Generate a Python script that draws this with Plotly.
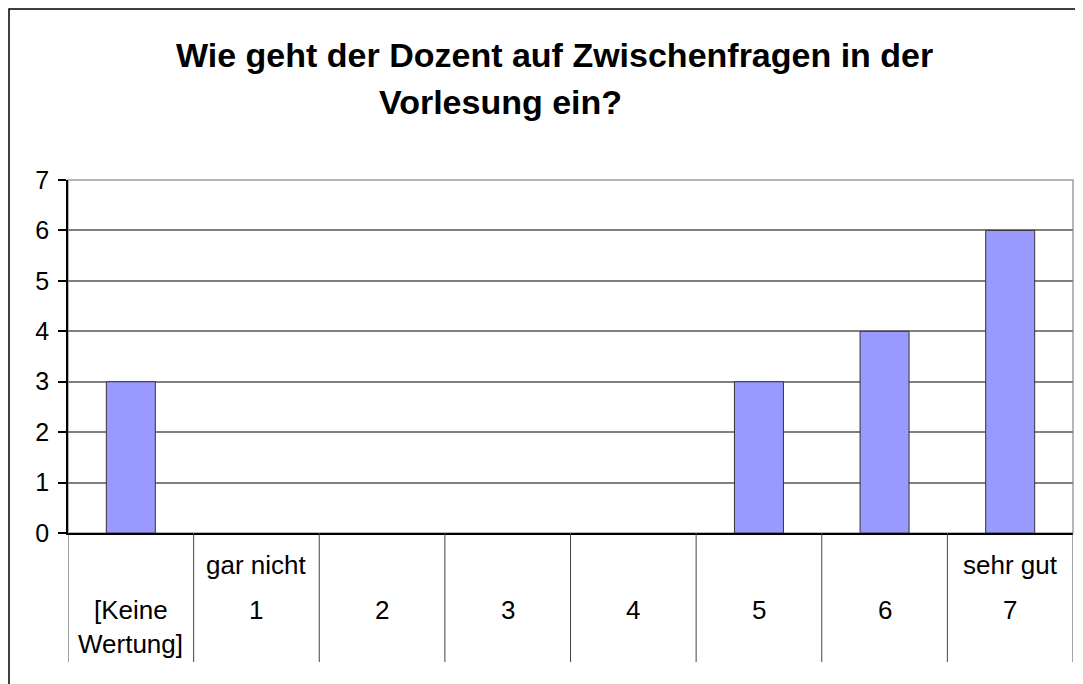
import plotly.graph_objects as go

categories = ["[Keine Wertung]", "1", "2", "3", "4", "5", "6", "7"]
counts = [3, 0, 0, 0, 0, 3, 4, 6]
label_top = ["", "gar nicht", "", "", "", "", "", "sehr gut"]
label_mid = ["[Keine", "1", "2", "3", "4", "5", "6", "7"]
label_bot = ["Wertung]", "", "", "", "", "", "", ""]
y_ticks = [0, 1, 2, 3, 4, 5, 6, 7]
title_line1 = "Wie geht der Dozent auf Zwischenfragen in der"
title_line2 = "Vorlesung ein?"

OFF = 8  # page body margin
W, H = 1083 - OFF, 684 - OFF
L, T = 68 - OFF, 180 - OFF
R = W - (1073 - OFF)
B = H - (533 - OFF)
PW, PH = W - L - R, H - T - B
FONT = "Liberation Sans, Arial, sans-serif"

def px(x):  # screen pixel -> paper
    return (x - OFF - L) / PW

def py(y):
    return (H - B - (y - OFF)) / PH

fig = go.Figure()
fig.add_trace(go.Bar(
    x=categories, y=counts,
    marker=dict(color="#9999FF",
                line=dict(color="#333333", width=[1 if v > 0 else 0 for v in counts])),
    hoverinfo="x+y",
))

shapes = []
shapes.append(dict(type="rect", xref="paper", yref="paper",
                   x0=px(9), x1=px(1100), y0=py(9), y1=py(700),
                   line=dict(color="#000000", width=1.5), layer="below"))
shapes.append(dict(type="rect", xref="paper", yref="paper",
                   x0=0, x1=1, y0=0, y1=1,
                   line=dict(color="#A0A0A0", width=1.5), layer="below"))
for i in range(len(categories) + 1):
    shapes.append(dict(type="line", xref="x", yref="paper",
                       x0=i - 0.5, x1=i - 0.5, y0=0, y1=py(662),
                       line=dict(color="#444444", width=1)))

annotations = []
for i, c in enumerate(categories):
    for txt, ypix in ((label_top[i], 565), (label_mid[i], 610), (label_bot[i], 644)):
        if txt:
            annotations.append(dict(x=i, y=py(ypix), xref="x", yref="paper",
                                    text=txt, showarrow=False,
                                    xanchor="center", yanchor="middle",
                                    font=dict(family=FONT, size=26, color="#000")))
annotations.append(dict(x=px(554), y=py(55), xref="paper", yref="paper",
                        text="<b>" + title_line1 + "</b>", showarrow=False,
                        xanchor="center", yanchor="middle",
                        font=dict(family=FONT, size=34, color="#000")))
annotations.append(dict(x=px(500), y=py(102), xref="paper", yref="paper",
                        text="<b>" + title_line2 + "</b>", showarrow=False,
                        xanchor="center", yanchor="middle",
                        font=dict(family=FONT, size=34, color="#000")))

fig.update_layout(
    width=W, height=H,
    margin=dict(l=L, r=R, t=T, b=B),
    paper_bgcolor="white", plot_bgcolor="white",
    showlegend=False,
    bargap=0.61,
    shapes=shapes,
    annotations=annotations,
    xaxis=dict(type="category", range=[-0.5, 7.5], showticklabels=False,
               showgrid=False, showline=True, linecolor="#000", linewidth=1.5,
               ticks="", zeroline=False, fixedrange=True),
    yaxis=dict(range=[0, 7], tickvals=y_ticks, showgrid=True,
               gridcolor="#808080", gridwidth=1.5,
               showline=True, linecolor="#000", linewidth=1.5,
               ticks="outside", ticklen=8, tickcolor="#000", tickwidth=1.5,
               ticklabelstandoff=4,
               tickfont=dict(family=FONT, size=25, color="#000"),
               zeroline=False, fixedrange=True),
)

fig.write_html("out.html")
